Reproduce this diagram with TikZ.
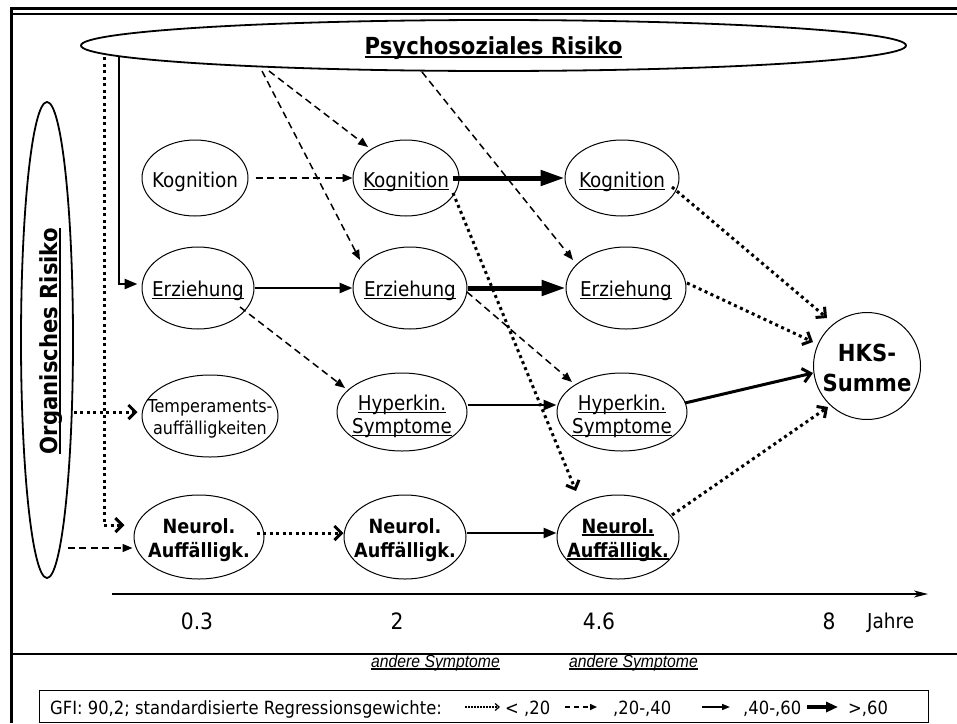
\documentclass[tikz,border=0pt]{standalone}
\usepackage{fontspec}
\setmainfont{DejaVu Sans}[FakeStretch=0.9]
\newfontfamily\narrowfont{Liberation Sans}[FakeStretch=0.9]
\usetikzlibrary{arrows.meta,shapes.geometric,calc}

% underline with a rule just below the baseline
\newsavebox\ulbox
\newcommand{\ulx}[1]{\sbox\ulbox{#1}\rlap{\usebox\ulbox}\rule[-0.16em]{\wd\ulbox}{0.085em}}

\newcommand{\fnorm}{\fontsize{20.4}{23}\selectfont}
\newcommand{\fsmall}{\fontsize{17.8}{22}\selectfont}
\newcommand{\fneuro}{\fontsize{19.6}{24}\selectfont\bfseries}
\newcommand{\fhks}{\fontsize{23.5}{30}\selectfont\bfseries}
\newcommand{\frisk}{\fontsize{23.5}{28}\selectfont\bfseries}
\newcommand{\faxis}{\fontsize{22.5}{27}\selectfont}
\newcommand{\flegend}{\fontsize{18.2}{22}\selectfont}
\newcommand{\fnote}{\narrowfont\fontsize{17.5}{20}\selectfont\itshape}

\begin{document}
\begin{tikzpicture}[x=1pt,y=-1pt,
  oval/.style={draw, ellipse, line width=1pt, inner sep=0pt},
  bigoval/.style={draw, ellipse, line width=1.8pt, inner sep=0pt},
  lbl/.style={inner sep=0pt, align=center, anchor=base},
  dsh/.style={line width=1.5pt, dash pattern=on 7pt off 4.5pt,
    -{Triangle[length=10pt,width=8pt]}},
  med/.style={line width=2.5pt, -{Triangle[length=13pt,width=10pt]}},
  thk/.style={line width=5pt, -{Triangle[length=24pt,width=15pt]}},
  dtt/.style={line width=3pt, dash pattern=on 3pt off 3.5pt,
    -{Straight Barb[length=7pt,width=14pt,line width=3pt]}},
  medbarb/.style={line width=3pt, -{Straight Barb[length=8pt,width=14pt]}},
  axis/.style={line width=2pt, -{Stealth[length=14pt,width=7pt,inset=4pt]}},
]
\useasboundingbox (0,0) rectangle (957,723);

% frame
\draw[line width=3pt] (957,8) -- (11,8) -- (11,723);
\draw[line width=1.5pt] (11,14) -- (957,14);
\draw[line width=1.5pt] (11,654) -- (957,654);

% risk factors
\node[bigoval, minimum width=825, minimum height=51] (psy) at (493.5,45.5) {};
\node[lbl, font=\frisk] (psy-t) at ($(psy)+(0,8.5)$) {\ulx{Psychosoziales Risiko}};
\node[bigoval, minimum width=52, minimum height=476] (org) at (47,340) {};
\node[lbl, font=\frisk, rotate=90] (org-t) at (57,341) {\ulx{Organisches Risiko}};

% measured variables
\node[oval, minimum width=106, minimum height=76] (k1) at (195,178) {};
\node[oval, minimum width=106, minimum height=76] (k2) at (406,178) {};
\node[oval, minimum width=114, minimum height=76] (k3) at (622,178) {};
\node[oval, minimum width=112, minimum height=82] (e1) at (198,288) {};
\node[oval, minimum width=114, minimum height=82] (e2) at (410,288) {};
\node[oval, minimum width=120, minimum height=82] (e3) at (626,288) {};
\node[oval, minimum width=136, minimum height=82] (t1) at (210,416) {};
\node[oval, minimum width=130, minimum height=78] (h2) at (402,412) {};
\node[oval, minimum width=130, minimum height=78] (h3) at (622,412) {};
\node[oval, minimum width=130, minimum height=84] (n1) at (199,537) {};
\node[oval, minimum width=122, minimum height=84] (n2) at (405,537) {};
\node[oval, minimum width=122, minimum height=84] (n3) at (618,537) {};
\node[draw, circle, line width=1pt, inner sep=0pt, minimum size=107] (hks) at (867,366) {};

% labels (multi-line labels sit on the baseline of their last line)
\node[lbl, font=\fnorm] (k1-t) at ($(k1)+(0,9)$) {Kognition};
\node[lbl, font=\fnorm] (k2-t) at ($(k2)+(0,9)$) {\ulx{Kognition}};
\node[lbl, font=\fnorm] (k3-t) at ($(k3)+(0,9)$) {\ulx{Kognition}};
\node[lbl, font=\fnorm] (e1-t) at ($(e1)+(0,8)$) {\ulx{Erziehung}};
\node[lbl, font=\fnorm] (e2-t) at ($(e2)+(0,8)$) {\ulx{Erziehung}};
\node[lbl, font=\fnorm] (e3-t) at ($(e3)+(0,8)$) {\ulx{Erziehung}};
\node[lbl, font=\fsmall] (t1-t) at ($(t1)+(0,18)$) {Temperaments-\\auffälligkeiten};
\node[lbl, font=\fnorm] (h2-t) at ($(h2)+(0,21)$) {\ulx{Hyperkin.}\\\ulx{Symptome}};
\node[lbl, font=\fnorm] (h3-t) at ($(h3)+(0,21)$) {\ulx{Hyperkin.}\\\ulx{Symptome}};
\node[lbl, font=\fneuro] (n1-t) at ($(n1)+(0,20)$) {Neurol.\\Auffälligk.};
\node[lbl, font=\fneuro] (n2-t) at ($(n2)+(0,20)$) {Neurol.\\Auffälligk.};
\node[lbl, font=\fneuro] (n3-t) at ($(n3)+(0,20)$) {\ulx{Neurol.}\\\ulx{Auffälligk.}};
\node[lbl, font=\fhks] (hks-t) at ($(hks)+(0,25)$) {HKS-\\Summe};

% paths from the psychosocial risk
\draw[dsh] ($(psy)+(-224.5,25.5)$) -- ($(k2)+(-38,-31)$);
\draw[dsh] ($(psy)+(-231.5,25.5)$) -- ($(e2)+(-50,-28)$);
\draw[dsh] ($(psy)+(-71.5,26.5)$) -- ($(e3)+(-53,-28)$);
\draw[med, shorten >=4pt] ($(psy)+(-374.5,11.5)$) |- ([yshift=4pt]e1.west);
\draw[dtt, shorten >=9pt] ($(psy)+(-389.5,11.5)$) |- ([yshift=12pt]n1.west);

% paths from the organic risk
\path ([yshift=4pt]t1.west) coordinate (t1in);
\draw[dtt, shorten >=4pt] (org.east |- t1in) -- (t1in);
\path ($(n1.west)+(-1,11)$) coordinate (n1in);
\draw[dsh] ($(org.east |- n1in)+(-6,0)$) -- (n1in);

% paths between the waves
\draw[dsh, shorten <=7pt] (k1) -- (k2);
\draw[thk, shorten <=-7pt] (k2) -- (k3);
\draw[med] (e1) -- (e2);
\draw[thk] (e2) -- (e3);
\draw[dsh] ($(e1)+(42,19)$) -- ($(h2)+(-57,-24)$);
\draw[dsh] ($(e2)+(57,4)$) -- ($(h3)+(-50,-30)$);
\draw[med] ([yshift=7pt]h2.east) -- ([yshift=7pt]h3.west);
\draw[dtt] ($(n1.east)+(-8,-4)$) -- ($(n2.west)+(0,-4)$);
\draw[med] ($(n2.east)+(0,-4)$) -- ($(n3.west)+(0,-4)$);
\draw[dtt] ($(k2)+(47,15)$) -- ($(n3)+(-42,-46)$);

% paths to the outcome
\draw[dtt] ($(k3)+(50,9)$) -- ($(hks)+(-40,-48)$);
\draw[dtt] ($(e3)+(61,-5)$) -- ($(hks)+(-54,-24)$);
\draw[medbarb] ($(h3)+(63,-9)$) -- ($(hks)+(-54,7)$);
\draw[dtt] ($(n3)+(54,-22)$) -- ($(hks)+(-39,41)$);

% time axis
\coordinate (ax0) at (112,594);
\coordinate (ax1) at (928,594);
\draw[axis] (ax0) -- (ax1);
\node[lbl, font=\faxis] (a1) at (197,629) {0.3};
\node[lbl, font=\faxis] (a2) at (397,629) {2};
\node[lbl, font=\faxis] (a3) at (599,629) {4.6};
\node[lbl, font=\faxis] (a4) at (829,629) {8};
\node[lbl, anchor=base west, font=\fontsize{20.5}{24}\selectfont] (a5) at (867,628) {Jahre};

% notes
\node[lbl, anchor=base west, font=\fnote] (s1) at (371,667) {\ulx{andere Symptome}};
\node[lbl, anchor=base west, font=\fnote] (s2) at (569,667) {\ulx{andere Symptome}};

% legend
\node[draw, line width=1.2pt, inner sep=0pt, anchor=north west,
  minimum width=889, minimum height=32] (leg) at (39,690) {};
\node[lbl, anchor=base west, font=\flegend] (leg-t) at (50,714)
  {GFI: 90,2; standardisierte Regressionsgewichte:};
\coordinate (l1a) at (465,707); \coordinate (l1b) at (500,707);
\coordinate (l2a) at (565,707); \coordinate (l2b) at (597,707);
\coordinate (l3a) at (702,707); \coordinate (l3b) at (730,707);
\coordinate (l4a) at (807,707); \coordinate (l4b) at (838,707);
\draw[line width=1.2pt, dash pattern=on 1.5pt off 1.5pt,
  -{Straight Barb[length=4pt,width=7pt]}] (l1a) -- (l1b);
\draw[line width=1.5pt, dash pattern=on 5pt off 4pt,
  -{Triangle[length=7pt,width=6pt]}] (l2a) -- (l2b);
\draw[line width=1.5pt, -{Triangle[length=8pt,width=6pt]}] (l3a) -- (l3b);
\draw[line width=3.5pt, -{Triangle[length=12pt,width=10pt]}] (l4a) -- (l4b);
\node[lbl, anchor=base west, font=\flegend] (lg1) at (505,714) {< ,20};
\node[lbl, anchor=base west, font=\flegend] (lg2) at (613,714) {,20-,40};
\node[lbl, anchor=base west, font=\flegend] (lg3) at (743,714) {,40-,60};
\node[lbl, anchor=base west, font=\flegend] (lg4) at (848,714) {>,60};
\end{tikzpicture}
\end{document}
